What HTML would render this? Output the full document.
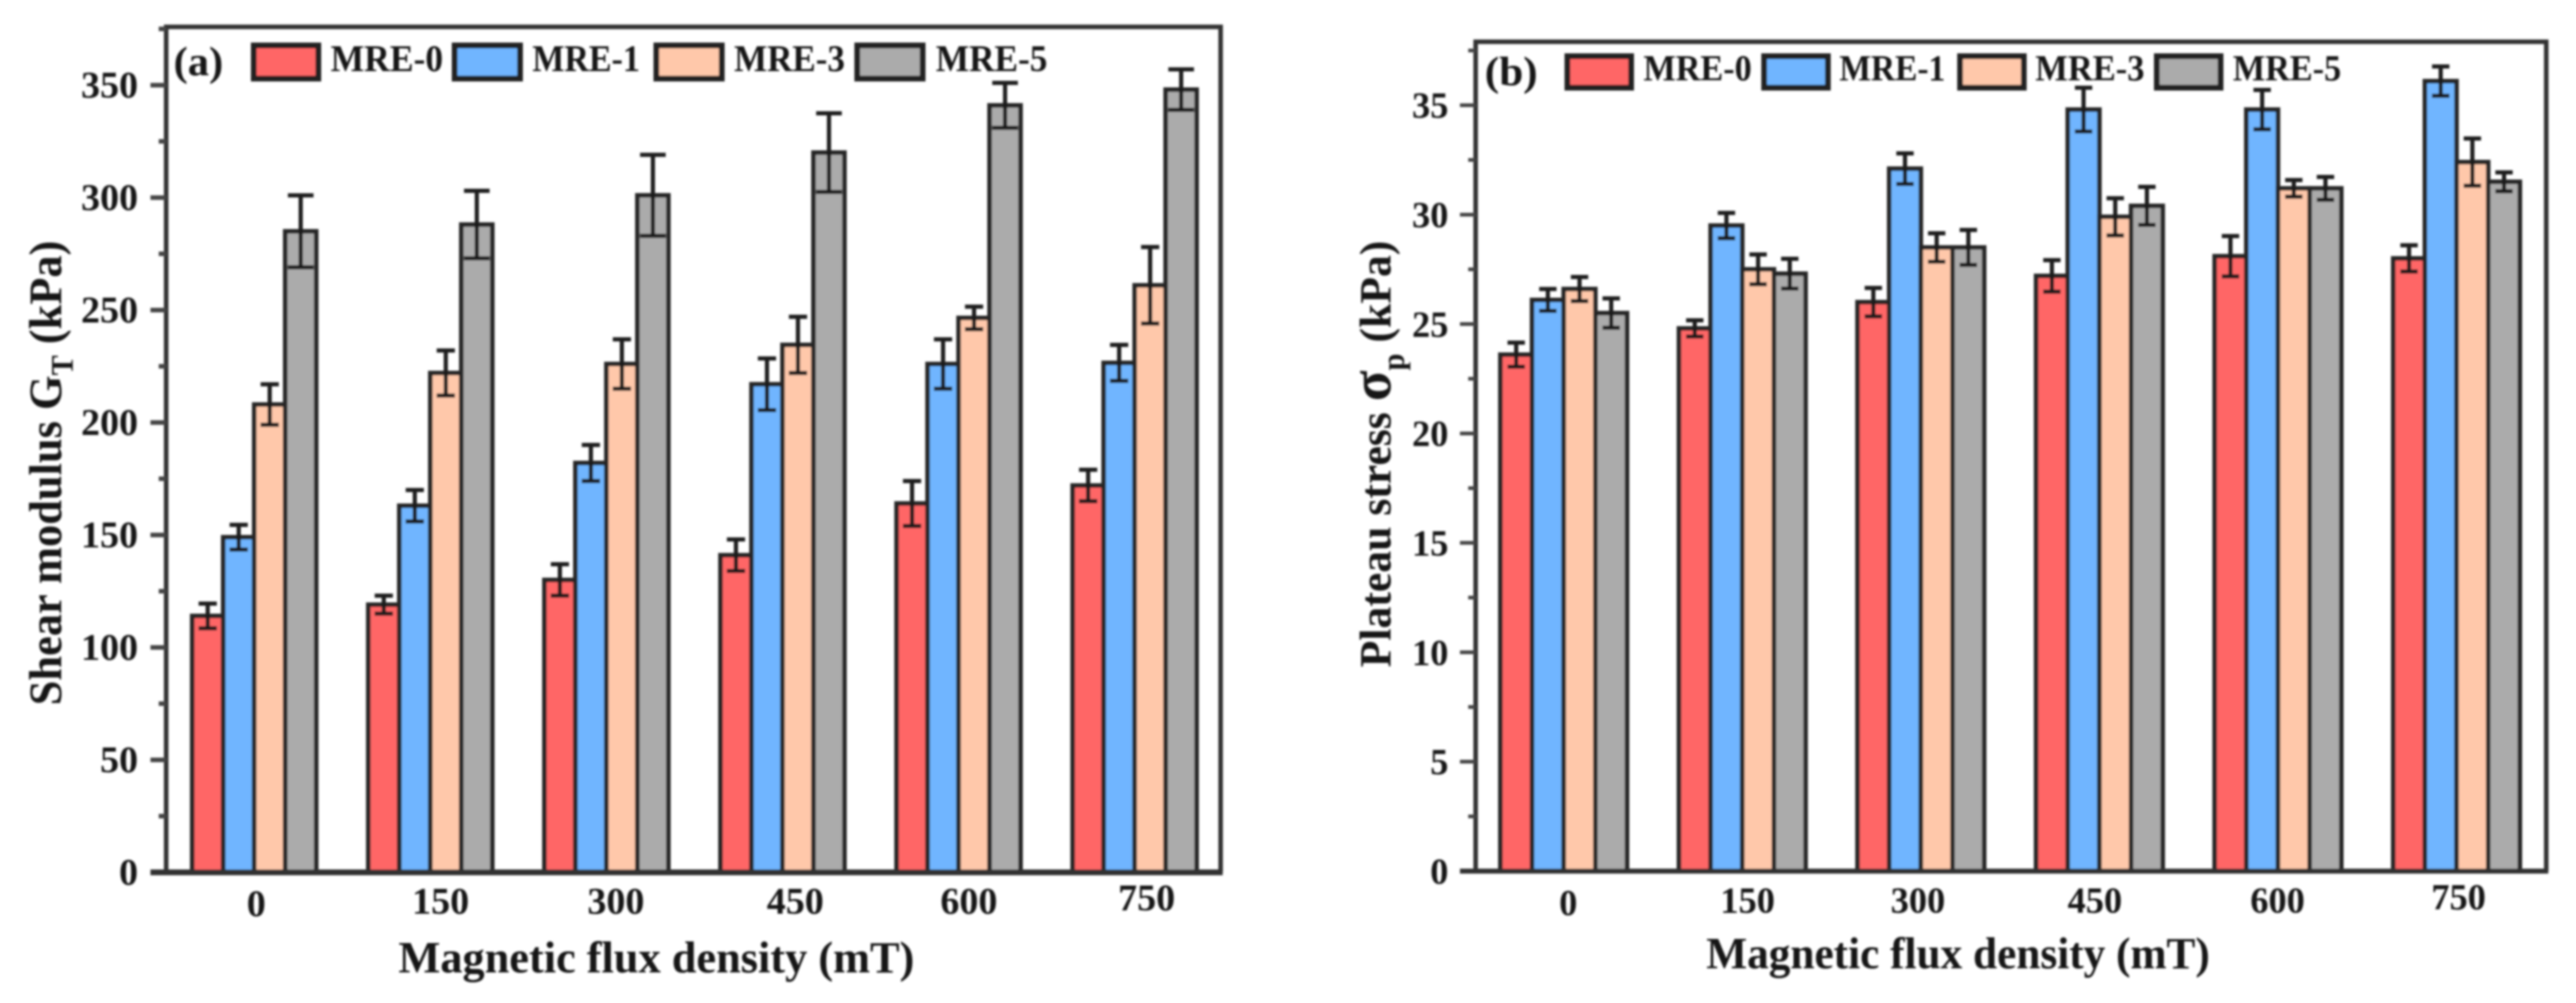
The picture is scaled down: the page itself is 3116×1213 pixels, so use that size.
<!DOCTYPE html>
<html lang="en">
<head>
<meta charset="utf-8">
<title>Shear modulus and plateau stress vs magnetic flux density</title>
<style>
html,body{margin:0;padding:0;background:#fff;width:3116px;height:1213px;overflow:hidden}
svg{display:block}
text{font-family:"Liberation Serif","DejaVu Serif",serif;font-weight:bold;fill:#161616}
</style>
</head>
<body>
<svg id="figure" xmlns="http://www.w3.org/2000/svg" width="3116" height="1213" viewBox="0 0 3116 1213">
  <defs><filter id="soft" x="-2%" y="-2%" width="104%" height="104%"><feGaussianBlur stdDeviation="1.4"/></filter></defs>
  <rect x="0" y="0" width="3116" height="1213" fill="#fff"/>
  <g id="root" filter="url(#soft)">
    <g id="panel-a"></g>
    <g id="panel-b"></g>

    <text x="210" y="91" font-size="50" textLength="60" lengthAdjust="spacingAndGlyphs">(a)</text>
    <g stroke="#222" stroke-width="7">
      <rect x="307" y="55" width="78" height="40" fill="#FF6666"/>
      <rect x="550" y="55" width="79" height="40" fill="#6FB5FF"/>
      <rect x="794" y="55" width="79" height="40" fill="#FFC8AA"/>
      <rect x="1037" y="55" width="79" height="40" fill="#ABABAB"/>
    </g>
    <text x="400" y="86" font-size="46" textLength="136" lengthAdjust="spacingAndGlyphs">MRE-0</text>
    <text x="644" y="86" font-size="46" textLength="130" lengthAdjust="spacingAndGlyphs">MRE-1</text>
    <text x="888" y="86" font-size="46" textLength="134" lengthAdjust="spacingAndGlyphs">MRE-3</text>
    <text x="1132" y="86" font-size="46" textLength="135" lengthAdjust="spacingAndGlyphs">MRE-5</text>
    <text x="482" y="1176" font-size="54" textLength="624" lengthAdjust="spacingAndGlyphs">Magnetic flux density (mT)</text>
    <text transform="translate(74,853) rotate(-90)" font-size="56" textLength="562" lengthAdjust="spacingAndGlyphs">Shear modulus G<tspan font-size="38" dy="14">T</tspan><tspan dy="-14"> (kPa)</tspan></text>

    <text x="1796" y="103" font-size="50" textLength="64" lengthAdjust="spacingAndGlyphs">(b)</text>
    <g stroke="#222" stroke-width="7">
      <rect x="1896" y="68" width="77" height="38" fill="#FF6666"/>
      <rect x="2134" y="68" width="77" height="38" fill="#6FB5FF"/>
      <rect x="2371" y="68" width="77" height="38" fill="#FFC8AA"/>
      <rect x="2609" y="68" width="77" height="38" fill="#ABABAB"/>
    </g>
    <text x="1988" y="97" font-size="44" textLength="131" lengthAdjust="spacingAndGlyphs">MRE-0</text>
    <text x="2225" y="97" font-size="44" textLength="128" lengthAdjust="spacingAndGlyphs">MRE-1</text>
    <text x="2462" y="97" font-size="44" textLength="132" lengthAdjust="spacingAndGlyphs">MRE-3</text>
    <text x="2701" y="97" font-size="44" textLength="131" lengthAdjust="spacingAndGlyphs">MRE-5</text>
    <text x="2064" y="1171" font-size="54" textLength="609" lengthAdjust="spacingAndGlyphs">Magnetic flux density (mT)</text>
    <text transform="translate(1682,807) rotate(-90)" font-size="54" textLength="516" lengthAdjust="spacingAndGlyphs">Plateau stress <tspan font-size="70">σ</tspan><tspan font-size="38" dy="16">p</tspan><tspan dy="-16"> (kPa)</tspan></text>
  </g>
</svg>
<script>
const categories = ['0', '150', '300', '450', '600', '750'];
const seriesNames = ['MRE-0', 'MRE-1', 'MRE-3', 'MRE-5'];

const shearTicks = [0, 50, 100, 150, 200, 250, 300, 350];
const shearMre0 = [114, 119, 130, 141, 164, 172];
const shearMre1 = [149, 163, 182, 217, 226, 226.5];
const shearMre3 = [208, 222, 226, 234.5, 246.5, 261];
const shearMre5 = [285, 288, 301, 320, 341, 348];
const shearErr0 = [5.5, 4, 7, 7, 10, 7];
const shearErr1 = [5.5, 7, 8, 11.5, 11, 8];
const shearErr3 = [9, 10, 11, 12.5, 5, 17];
const shearErr5 = [16, 15, 18, 17.5, 10, 9];

const plateauTicks = [0, 5, 10, 15, 20, 25, 30, 35];
const plateauMre0 = [23.6, 24.8, 26, 27.2, 28.1, 28];
const plateauMre1 = [26.1, 29.5, 32.1, 34.8, 34.8, 36.1];
const plateauMre3 = [26.6, 27.5, 28.5, 29.9, 31.2, 32.4];
const plateauMre5 = [25.5, 27.3, 28.5, 30.4, 31.2, 31.5];
const plateauErr0 = [0.55, 0.37, 0.65, 0.72, 0.92, 0.6];
const plateauErr1 = [0.5, 0.58, 0.7, 1, 0.9, 0.67];
const plateauErr3 = [0.55, 0.68, 0.65, 0.85, 0.38, 1.08];
const plateauErr5 = [0.67, 0.68, 0.8, 0.87, 0.52, 0.43];

const NS = 'http://www.w3.org/2000/svg';
const fills = ['#FF6666', '#6FB5FF', '#FFC8AA', '#ABABAB'];
const slugs = ['mre-0', 'mre-1', 'mre-3', 'mre-5'];

function make(parent, tag, attrs) {
  const node = document.createElementNS(NS, tag);
  for (const key in attrs) node.setAttribute(key, attrs[key]);
  parent.appendChild(node);
  return node;
}

function drawPanel(cfg) {
  const g = document.getElementById(cfg.id);
  const yScale = v => cfg.bottom - (v / cfg.yMax) * (cfg.bottom - cfg.top);
  const xScale = i => cfg.firstCenter + cfg.band * i;

  // bars
  cfg.values.forEach((series, s) => {
    series.forEach((v, i) => {
      const x = xScale(i) + (s - 2) * cfg.barWidth;
      const y = yScale(v);
      const bar = make(g, 'rect', {
        x: x, y: y, width: cfg.barWidth, height: cfg.bottom - y,
        fill: fills[s], stroke: '#262626', 'stroke-width': 5.5
      });
      
      
    });
  });

  // error bars
  cfg.errors.forEach((series, s) => {
    series.forEach((e, i) => {
      const cx = xScale(i) + (s - 1.5) * cfg.barWidth;
      const v = cfg.values[s][i];
      const hi = yScale(v + e);
      const lo = yScale(v - e);
      const halfCap = cfg.capWidths[s] / 2;
      const err = make(g, 'path', {
        d: 'M' + cx + ' ' + hi + 'V' + lo +
           'M' + (cx - halfCap) + ' ' + hi + 'H' + (cx + halfCap) +
           'M' + (cx - halfCap) + ' ' + lo + 'H' + (cx + halfCap),
        fill: 'none', stroke: '#1a1a1a', 'stroke-width': 5
      });
      
      
    });
  });

  // frame
  const frame = make(g, 'path', {
    d: 'M' + cfg.left + ' ' + cfg.bottom + 'V' + cfg.top + 'H' + cfg.right + 'V' + cfg.bottom,
    fill: 'none', stroke: '#333', 'stroke-width': 5.5
  });
  
  

  const xAxis = make(g, 'line', {
    x1: cfg.left - cfg.majorLen, x2: cfg.right + 2.5, y1: cfg.bottom, y2: cfg.bottom,
    stroke: '#333', 'stroke-width': cfg.baseWidth
  });
  
  

  // y ticks and labels
  const step = cfg.ticks[1] - cfg.ticks[0];
  cfg.ticks.forEach(t => {
    const y = yScale(t);
    if (t > 0) {
      const tick = make(g, 'line', {
        x1: cfg.left - cfg.majorLen, x2: cfg.left, y1: y, y2: y,
        stroke: '#444', 'stroke-width': cfg.tickWidth
      });
      
      
    }
    const minorY = yScale(t + step / 2);
    const minor = make(g, 'line', {
      x1: cfg.left - cfg.minorLen, x2: cfg.left, y1: minorY, y2: minorY,
      stroke: '#444', 'stroke-width': cfg.tickWidth
    });
    
    
    const label = make(g, 'text', {
      x: cfg.left - cfg.labelGap, y: y + 15, 'font-size': cfg.tickFont, 'text-anchor': 'end'
    });
    label.textContent = String(t);
    
    
  });

  // x tick labels
  categories.forEach((c, i) => {
    const nudge = cfg.labelNudge[i];
    const label = make(g, 'text', {
      x: xScale(i) + nudge[0], y: cfg.bottom + 50 + nudge[1],
      'font-size': cfg.tickFont, 'text-anchor': 'middle'
    });
    label.textContent = c;
    
    
  });
}

drawPanel({
  id: 'panel-a', left: 201, right: 1476.5, top: 32.5, bottom: 1055, yMax: 375.9,
  firstCenter: 307.5, band: 213, barWidth: 37.5, capWidths: [22, 22, 22, 31],
  majorLen: 19, minorLen: 9, labelGap: 34, tickWidth: 5.5, baseWidth: 7, tickFont: 46,
  ticks: shearTicks,
  values: [shearMre0, shearMre1, shearMre3, shearMre5],
  errors: [shearErr0, shearErr1, shearErr3, shearErr5],
  labelNudge: [[2.5, 3], [12.5, 0], [11.5, 0], [15.5, 0], [12.5, 0], [14.5, -4]]
});

drawPanel({
  id: 'panel-b', left: 1785, right: 3080, top: 50.5, bottom: 1053.5, yMax: 37.9,
  firstCenter: 1891.5, band: 216, barWidth: 38.3, capWidths: [21, 21, 21, 21],
  majorLen: 19, minorLen: 9, labelGap: 33, tickWidth: 4.5, baseWidth: 6, tickFont: 44,
  ticks: plateauTicks,
  values: [plateauMre0, plateauMre1, plateauMre3, plateauMre5],
  errors: [plateauErr0, plateauErr1, plateauErr3, plateauErr5],
  labelNudge: [[5.5, 3], [6.5, 0], [-3.5, 0], [-5.5, 0], [-0.5, 0], [2.5, -4]]
});
</script>
</body>
</html>
